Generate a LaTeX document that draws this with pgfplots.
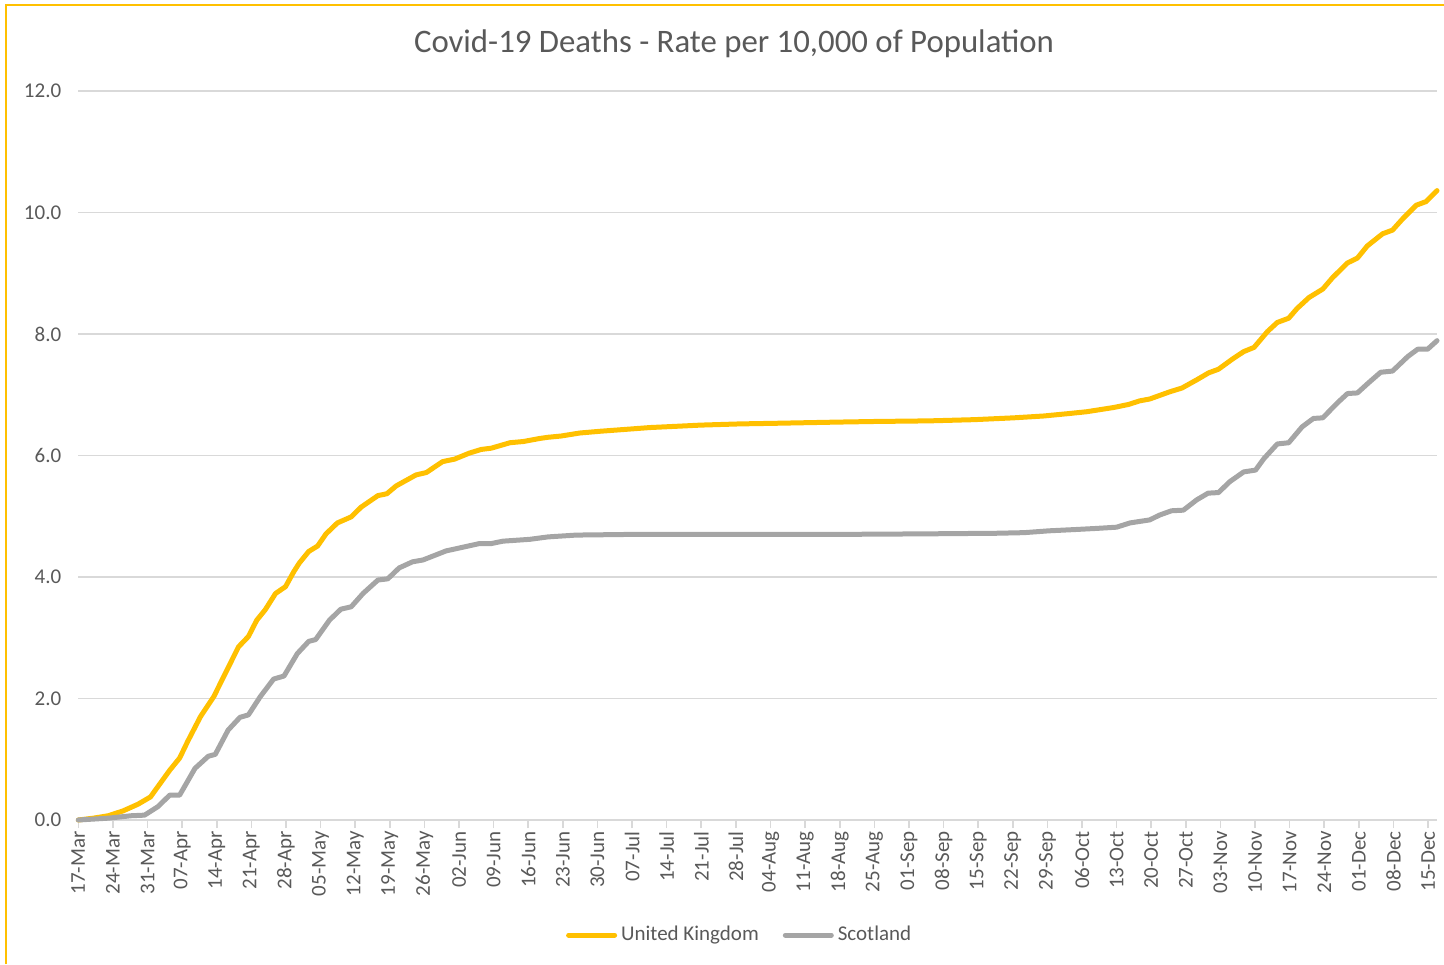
\documentclass[border=0pt]{standalone}
\usepackage{pgfplots}
\pgfplotsset{compat=1.18}
\usepackage{fontspec}
\setmainfont{Carlito}
\definecolor{ukc}{HTML}{FFC000}
\definecolor{scc}{HTML}{A5A5A5}
\definecolor{txt}{HTML}{595959}
\definecolor{grd}{HTML}{D9D9D9}
\begin{document}
\begin{tikzpicture}
\path[use as bounding box] (0,0) rectangle (722pt,482pt);
\draw[ukc, line width=1pt] (3pt,0) -- (3pt,479.5pt) -- (722pt,479.5pt);
\node[txt, font=\fontsize{16.4}{19}\selectfont] at (367pt,460pt) {Covid-19 Deaths - Rate per 10,000 of Population};
\begin{axis}[
  at={(39.15pt,72pt)}, anchor=south west,
  scale only axis, width=679.35pt, height=364.5pt,
  xmin=0, xmax=274.8, ymin=0, ymax=12,
  axis x line*=bottom, axis y line*=left,
  x axis line style={grd, line width=0.8pt, -},
  y axis line style={draw=none},
  xtick={0,7,...,273},
  xticklabels={17-Mar,24-Mar,31-Mar,07-Apr,14-Apr,21-Apr,28-Apr,05-May,12-May,19-May,26-May,02-Jun,09-Jun,16-Jun,23-Jun,30-Jun,07-Jul,14-Jul,21-Jul,28-Jul,04-Aug,11-Aug,18-Aug,25-Aug,01-Sep,08-Sep,15-Sep,22-Sep,29-Sep,06-Oct,13-Oct,20-Oct,27-Oct,03-Nov,10-Nov,17-Nov,24-Nov,01-Dec,08-Dec,15-Dec},
  xticklabel style={rotate=90, anchor=east, txt, font=\fontsize{10.5}{12}\selectfont, inner sep=1.5pt},
  tick align=outside, major tick length=4pt,
  xtick style={grd, line width=0.8pt},
  ytick={0,2,...,12},
  ytick style={draw=none},
  ymajorgrids, grid style={grd, line width=0.8pt},
  yticklabel style={txt, font=\fontsize{10.5}{12}\selectfont, xshift=-1pt},
  y tick label style={/pgf/number format/.cd, fixed, fixed zerofill, precision=1, assume math mode=true},
  legend style={at={(0.4875,-0.158)}, anchor=center, draw=none, fill=none, legend columns=2,
    font=\fontsize{10.5}{12}\selectfont, text=txt,
    /tikz/every even column/.append style={column sep=10pt}},
  legend cell align=left,
  legend image code/.code={\draw[#1] (0pt,0pt) -- (23pt,0pt);},
  clip=false,
]
\addplot[ukc, line width=2.5pt, line join=round, line cap=round] coordinates {
(0,0) (3.02,0.03) (6.04,0.07) (9.06,0.15) (12.08,0.26) (14.6,0.38) (16.1,0.55) (18.5,0.82) (20.5,1.02) (22.1,1.29) (24.7,1.70) (27.4,2.03) (29.4,2.36) (32.4,2.85) (34.4,3.02) (36.1,3.29) (37.8,3.46) (39.9,3.73) (41.9,3.84) (43.6,4.09) (44.7,4.23) (46.6,4.42) (48.4,4.51) (50.1,4.71) (52.4,4.89) (55.2,4.99) (57.2,5.15) (60.6,5.34) (62.4,5.37) (64.3,5.50) (68.3,5.68) (70.4,5.72) (73.7,5.90) (76.1,5.94) (79.1,6.04) (81.5,6.10) (83.5,6.12) (87.3,6.21) (90,6.23) (93.3,6.28) (95,6.30) (97.6,6.32) (101.4,6.37) (105.7,6.40) (110.7,6.43) (115.6,6.46) (120.8,6.48) (125.8,6.50) (133.8,6.52) (140.9,6.53) (153.7,6.55) (161.1,6.56) (172.1,6.57) (181.2,6.59) (189.2,6.62) (195.2,6.65) (200.3,6.69) (203.9,6.72) (209.4,6.79) (212.4,6.84) (214.7,6.90) (216.7,6.93) (220.8,7.05) (223.2,7.11) (226.3,7.25) (228.6,7.36) (230.6,7.42) (233.3,7.58) (235.7,7.71) (237.8,7.78) (240.5,8.04) (242.5,8.19) (244.8,8.26) (246.5,8.42) (248.9,8.60) (251.7,8.74) (253.7,8.93) (256.7,9.17) (258.7,9.25) (260.7,9.45) (263.8,9.65) (265.8,9.71) (267.9,9.90) (270.6,10.12) (272.6,10.18) (274.8,10.36)
};
\addlegendentry{United Kingdom}
\addplot[scc, line width=2.5pt, line join=round, line cap=round] coordinates {
(0,0) (6.04,0.03) (10.7,0.07) (13.4,0.08) (16.1,0.22) (18.5,0.41) (20.5,0.41) (23.6,0.85) (26.3,1.05) (27.7,1.08) (30.3,1.48) (32.7,1.69) (34.4,1.73) (36.8,2.03) (39.5,2.32) (41.6,2.37) (44.3,2.74) (46.6,2.94) (48,2.97) (50.8,3.29) (53.1,3.47) (55.2,3.51) (57.6,3.73) (60.6,3.95) (62.6,3.97) (64.9,4.15) (67.6,4.25) (69.7,4.28) (74.4,4.43) (76.1,4.46) (81.1,4.55) (83.5,4.55) (85.9,4.59) (91.3,4.62) (95,4.66) (100.7,4.69) (110.7,4.70) (151,4.70) (171.1,4.71) (185.7,4.72) (191.3,4.73) (196.3,4.76) (201.3,4.78) (206,4.80) (210,4.82) (212.7,4.89) (216.7,4.94) (218.7,5.02) (221.1,5.09) (223.5,5.10) (226.2,5.27) (228.5,5.38) (230.6,5.39) (232.9,5.57) (235.7,5.73) (238.1,5.76) (239.8,5.95) (242.5,6.19) (244.8,6.21) (247.5,6.47) (249.8,6.61) (251.7,6.62) (254.7,6.87) (256.7,7.02) (258.7,7.03) (261,7.20) (263.4,7.37) (265.8,7.39) (268.9,7.63) (270.9,7.75) (272.9,7.75) (274.8,7.89)
};
\addlegendentry{Scotland}
\end{axis}
\end{tikzpicture}
\end{document}
